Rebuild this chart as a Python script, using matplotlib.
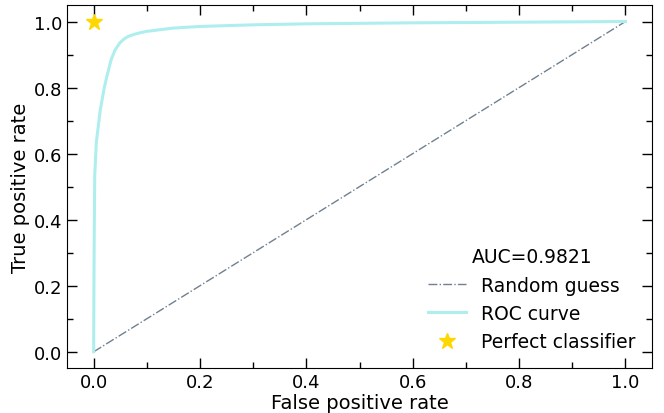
import matplotlib
matplotlib.use("Agg")
import matplotlib.pyplot as plt
from matplotlib.ticker import AutoMinorLocator

# ROC curve points
fpr = [0.0, 0.0005, 0.001, 0.002, 0.005, 0.0126, 0.02, 0.025, 0.033, 0.04, 0.049,
       0.057, 0.065, 0.08, 0.099, 0.149, 0.199, 0.3, 0.4, 0.6, 0.8, 1.0]
tpr = [0.0, 0.2, 0.33, 0.533, 0.634, 0.734, 0.80, 0.835, 0.885, 0.913, 0.935,
       0.947, 0.955, 0.963, 0.970, 0.980, 0.985, 0.990, 0.993, 0.996, 0.998, 1.0]
random_x = [0.0, 1.0]
random_y = [0.0, 1.0]
perfect_x = [0.0]
perfect_y = [1.0]
auc = 0.9821

fig = plt.figure(figsize=(6.64, 4.14), dpi=100)
ax = fig.add_axes([0.101, 0.108, 0.881, 0.8775])

ax.plot(random_x, random_y, linestyle='-.', color='#708090', linewidth=1.0, label='Random guess')
ax.plot(fpr, tpr, color='#afeeee', linewidth=2.2, label='ROC curve')
ax.plot(perfect_x, perfect_y, linestyle='none', marker='*', markersize=12,
        color='#ffd700', label='Perfect classifier')

ax.set_xlim(-0.05, 1.05)
ax.set_ylim(-0.05, 1.05)
ax.set_xlabel('False positive rate', fontsize=14, labelpad=1)
ax.set_ylabel('True positive rate', fontsize=14, labelpad=3)

ax.xaxis.set_minor_locator(AutoMinorLocator(2))
ax.yaxis.set_minor_locator(AutoMinorLocator(2))
ax.tick_params(which='both', direction='in', top=True, right=True, labelsize=13)
ax.tick_params(which='major', length=7, width=1)
ax.tick_params(which='minor', length=4, width=1)

leg = ax.legend(loc='lower right', frameon=False, fontsize=13.5,
                title='AUC=%.4f' % auc, title_fontsize=13.5)

fig.savefig('out.png', dpi=100)
